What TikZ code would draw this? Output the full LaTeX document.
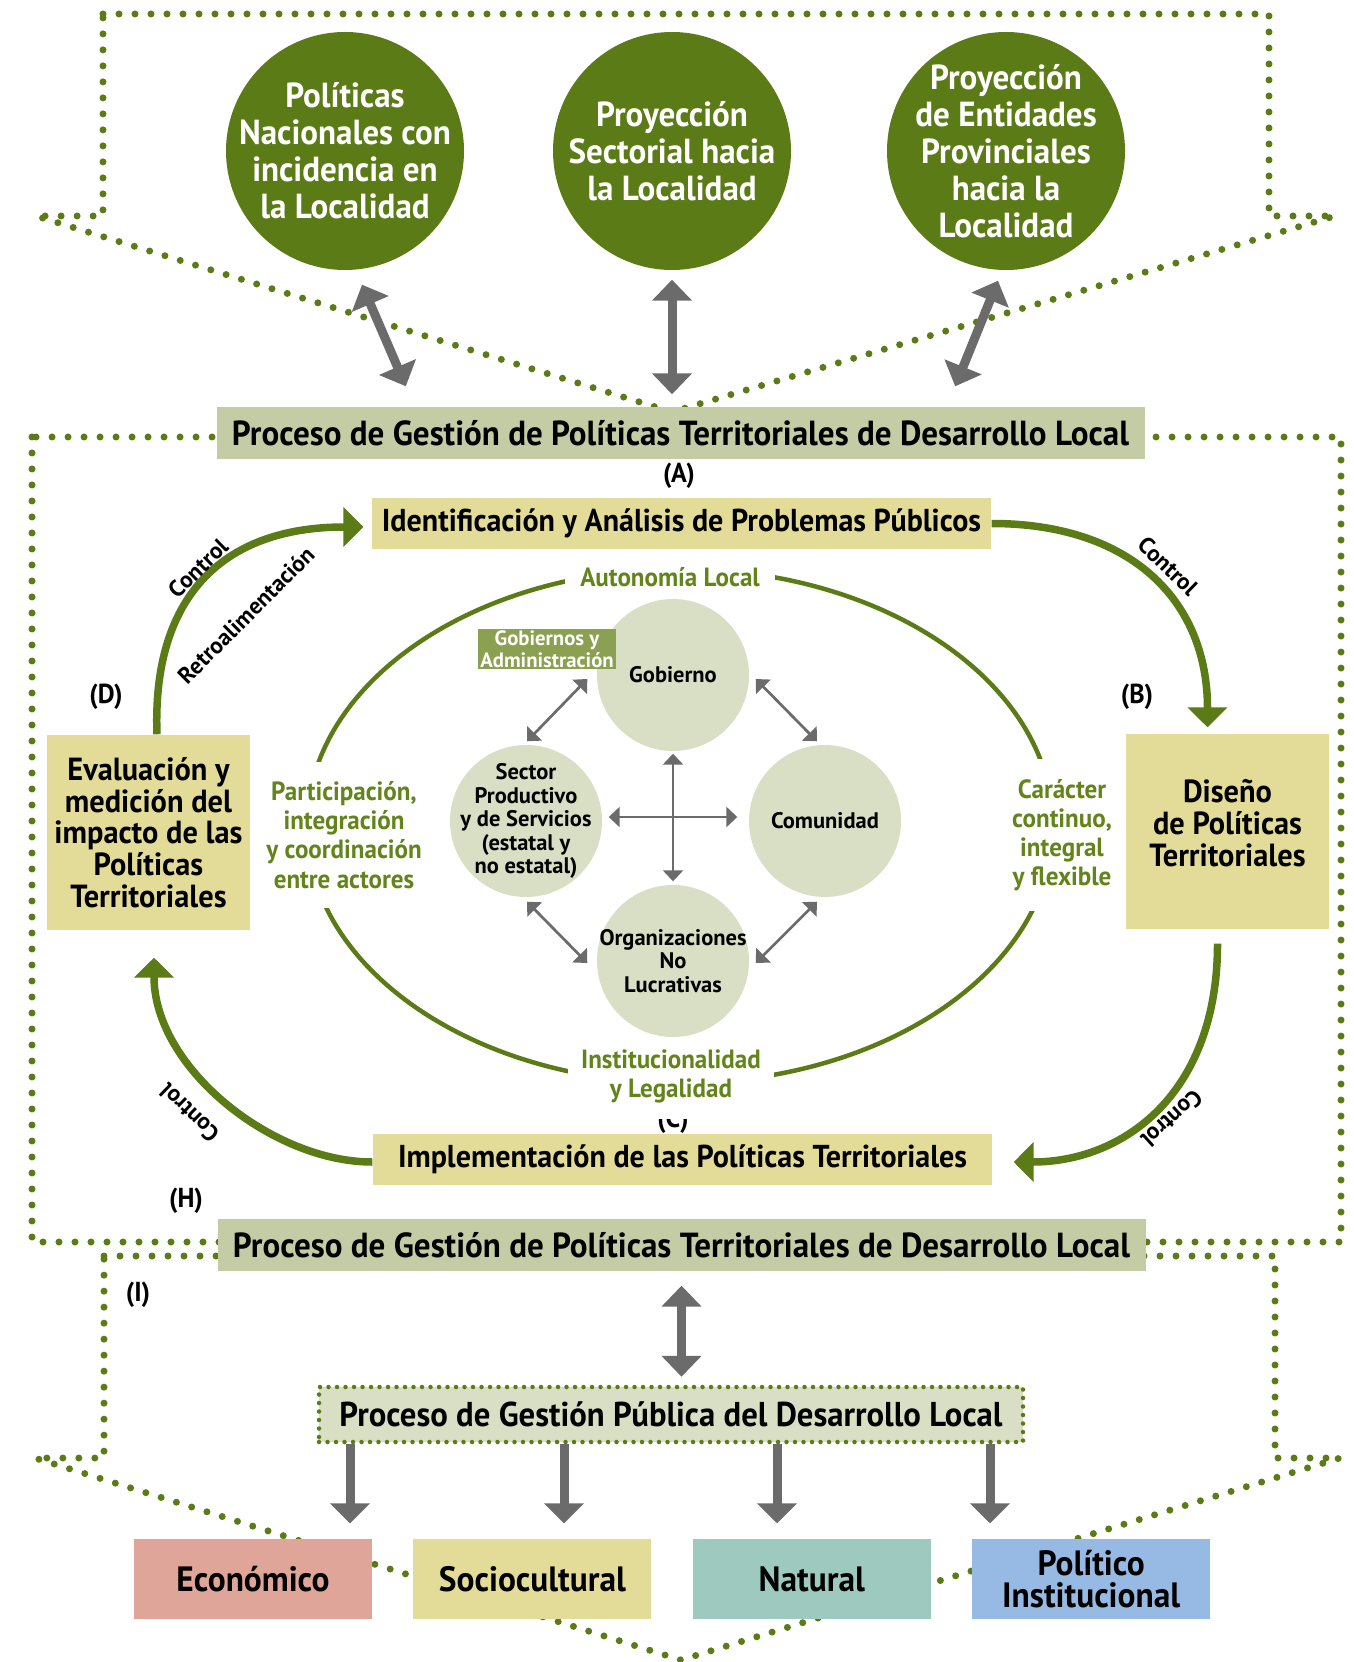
\documentclass[tikz,border=0pt]{standalone}
\usepackage{fontspec}
\setmainfont{PT Sans}
\newfontfamily\narrowfont[FakeStretch=0.95]{PT Sans}
\usetikzlibrary{arrows.meta,positioning}
\definecolor{leafgreen}{RGB}{91,123,22}
\definecolor{labelgreen}{RGB}{98,132,26}
\definecolor{arrowgray}{RGB}{107,107,107}
\definecolor{procfill}{RGB}{195,204,164}
\definecolor{stagefill}{RGB}{227,220,153}
\definecolor{actorfill}{RGB}{216,223,196}
\definecolor{tagfill}{RGB}{139,160,80}
\definecolor{econfill}{RGB}{224,165,153}
\definecolor{natfill}{RGB}{158,201,190}
\definecolor{polfill}{RGB}{150,186,228}
\newcommand{\fsz}[2]{\fontsize{#1}{#2}\selectfont}
\tikzstyle{every node}=[inner sep=0pt,font=\bfseries]
\tikzstyle{dotline}=[leafgreen,line width=0.7mm,line cap=round,dash pattern=on 0pt off 1.6mm]
\tikzstyle{bigboth}=[arrowgray,line width=0.9mm,{Triangle[length=2.1mm,width=3.9mm]}-{Triangle[length=2.1mm,width=3.9mm]}]
\tikzstyle{bigarrow}=[arrowgray,line width=0.9mm,-{Triangle[length=2mm,width=3.9mm]}]
\tikzstyle{smallboth}=[arrowgray,line width=0.27mm,{Triangle[length=1.1mm,width=2mm]}-{Triangle[length=1.1mm,width=2mm]}]
\tikzstyle{cycleline}=[leafgreen,line width=0.75mm,-{Triangle[length=2mm,width=3.9mm]}]
\tikzstyle{ringline}=[leafgreen,line width=0.45mm]
\tikzstyle{greenball}=[circle,fill=leafgreen,text=white,minimum size=23.8mm,inner sep=-1.2mm,align=center,font=\narrowfont\bfseries\fsz{9.9}{10.5}]
\tikzstyle{procbox}=[fill=procfill,minimum width=92.8mm,minimum height=5.2mm,font=\narrowfont\bfseries\fsz{9.9}{10}]
\tikzstyle{stagebox}=[fill=stagefill,minimum width=61.9mm,minimum height=5.1mm,font=\narrowfont\bfseries\fsz{9}{10}]
\tikzstyle{phasebox}=[fill=stagefill,minimum width=20.3mm,minimum height=19.5mm,align=center,font=\narrowfont\bfseries\fsz{9.1}{9}]
\tikzstyle{letter}=[font=\narrowfont\bfseries\fsz{7.8}{8}]
\tikzstyle{ringlabel}=[fill=white,text=labelgreen,align=center,font=\narrowfont\bfseries\fsz{7.5}{8.3}]
\tikzstyle{actor}=[circle,fill=actorfill,minimum size=15.2mm,inner sep=-1.2mm,align=center,font=\bfseries\fsz{6.4}{6.7}]
\tikzstyle{tagbox}=[fill=tagfill,text=white,minimum width=13.8mm,minimum height=4mm,align=center,font=\bfseries\fsz{5.9}{6.3}]
\tikzstyle{ctrl}=[font=\bfseries\fsz{6.6}{7}]
\tikzstyle{pubbox}=[fill=actorfill,draw=leafgreen,line width=0.45mm,line cap=round,dash pattern=on 0pt off 0.85mm,minimum width=70.4mm,minimum height=5.5mm,font=\narrowfont\bfseries\fsz{9.8}{10}]
\tikzstyle{dimbox}=[minimum width=23.8mm,minimum height=8mm,align=center,font=\narrowfont\bfseries\fsz{10}{9.1}]

\begin{document}
\begin{tikzpicture}[x=0.1mm,y=-0.1mm]
    \useasboundingbox (0,0) rectangle (1353,1662);

    % Dotted frames
    \draw[dotline] (103,14) -- (1269,14) -- (1269,216) -- (1335,216) -- (672,412) -- (36,216) -- (103,216) -- cycle;
    \draw[dotline] (32,437) rectangle (1341,1242);
    \draw[dotline] (104,1256) -- (1275,1256) -- (1275,1458) -- (1340,1458) -- (681,1660) -- (35,1458) -- (104,1458) -- cycle;

    % Outer levels
    \node[greenball] (polNac) at (345,151) {Políticas\\Nacionales con\\incidencia en\\la Localidad};
    \node[greenball] (proySec) at (672,151) {Proyección\\Sectorial hacia\\la Localidad};
    \node[greenball] (proyProv) at (1006,151) {Proyección\\de Entidades\\Provinciales\\hacia la\\Localidad};

    \node[procbox] (procTop) at (680.5,433) {Proceso de Gestión de Políticas Territoriales de Desarrollo Local};
    \node[procbox] (procBot) at (681.5,1245) {Proceso de Gestión de Políticas Territoriales de Desarrollo Local};

    \draw[bigboth] ([shift={(17,14)}]polNac.south) -- ([shift={(190,-20)}]procTop.north west);
    \draw[bigboth] ([yshift=-0.9mm]proySec.south) -- ([yshift=1.2mm]proySec.south |- procTop.north);
    \draw[bigboth] ([shift={(-8,10)}]proyProv.south) -- ([shift={(-190,-20)}]procTop.north east);

    % Policy cycle
    \node[stagebox] (ident) at (681.5,523.5) {Identificación y Análisis de Problemas Públicos};
    \node[phasebox,text depth=1.7mm] (diseno) at (1227.5,831.5) {Diseño\\de Políticas\\Territoriales};
    \node[stagebox] (implem) at (682.5,1159.5) {Implementación de las Políticas Territoriales};
    \node[phasebox] (evalua) at (148.5,832.5) {Evaluación y\\medición del\\impacto de las\\Políticas\\Territoriales};

    \node[letter] (labA) at (679,476) {(A)};
    \node[letter] (labB) at (1137,697) {(B)};
    \node[letter] (labC) at (673,1121) {(C)};
    \node[letter] (labD) at (106,697) {(D)};
    \node[letter] (labH) at (186,1201) {(H)};
    \node[letter] (labI) at (138,1295) {(I)};

    \draw[cycleline] ([xshift=0.85mm]evalua.north) .. controls +(-5,-134) and +(-144,0) .. ([xshift=-0.8mm,yshift=-0.35mm]ident.west);
    \draw[cycleline] (ident.east) .. controls +(138,0) and +(0,-128) .. ([shift={(-20,-6)}]diseno.north);
    \draw[cycleline] ([shift={(-10,14)}]diseno.south) .. controls +(0,150) and +(110,0) .. ([shift={(21,2.5)}]implem.east);
    \draw[cycleline] ([yshift=-0.25mm]implem.west) .. controls +(-100,0) and +(0,110) .. ([shift={(5.5,27)}]evalua.south);

    \node[ctrl,rotate=44] (ctrlA) at (198,568) {Control};
    \node[ctrl,rotate=45] (retro) at (246,615) {Retroalimentación};
    \node[ctrl,rotate=-44] (ctrlB) at (1168,566) {Control};
    \node[ctrl,rotate=-138] (ctrlC) at (1172,1119) {Control};
    \node[ctrl,rotate=136] (ctrlD) at (189,1113) {Control};

    % Ring of principles
    \draw[ringline] (680,826) ellipse [x radius=37.3mm,y radius=25.7mm];
    \node[ringlabel,inner xsep=1.5mm,inner ysep=0.6mm] (autonom) at (670,577) {Autonomía Local};
    \node[ringlabel,inner ysep=2mm] (particip) at (344,835) {Participación,\\integración\\y coordinación\\entre actores};
    \node[ringlabel,inner ysep=2mm] (caracter) at (1062,835) {Carácter\\continuo,\\integral\\y flexible};
    \node[ringlabel,inner xsep=1.3mm,anchor=north,text depth=2.1mm] (institu) at (671,1049) {Institucionalidad\\y Legalidad};

    % Actors
    \node[actor] (gobierno) at (673,675) {Gobierno};
    \node[actor] (sector) at (526,821) {Sector\\Productivo\\y de Servicios\\(estatal y\\no estatal)};
    \node[actor] (comunidad) at (825,821) {Comunidad};
    \node[actor] (organiz) at (673,961) {Organizaciones\\No\\Lucrativas};
    \node[tagbox] (tag) at (547,649) {Gobiernos y\\Administración};

    \draw[smallboth] ([shift={(-9,4)}]gobierno.west) -- ([shift={(1,-3)}]sector.north);
    \draw[smallboth] ([shift={(6,4)}]gobierno.east) -- ([shift={(-8,-3)}]comunidad.north);
    \draw[smallboth] ([shift={(1,4)}]sector.south) -- ([shift={(-9,2)}]organiz.west);
    \draw[smallboth] ([shift={(-8,4)}]comunidad.south) -- ([shift={(6,2)}]organiz.east);
    \draw[smallboth] ([yshift=-0.2mm]gobierno.south) -- ([yshift=0.3mm]organiz.north);
    \draw[smallboth] ([shift={(6,-4)}]sector.east) -- ([shift={(-11,-4)}]comunidad.west);

    % Local public management
    \node[pubbox] (gestPub) at (671,1414.5) {Proceso de Gestión Pública del Desarrollo Local};
    \draw[bigboth] ([yshift=-1.4mm]procBot.south) -- ([yshift=0.8mm]procBot.south |- gestPub.north);

    \node[dimbox,fill=econfill] (econ) at (253,1579) {Económico};
    \node[dimbox,fill=stagefill,right=4mm of econ] (socio) {Sociocultural};
    \node[dimbox,fill=natfill,right=4mm of socio] (natur) {Natural};
    \node[dimbox,fill=polfill,right=4mm of natur] (polInst) {Político\\Institucional};

    \foreach \dx in {-321,-107,106,319}
        \draw[bigarrow] ([xshift=\dx*0.1mm]gestPub.south) -- ([xshift=\dx*0.1mm,yshift=1.5mm]gestPub.south |- econ.north);
\end{tikzpicture}
\end{document}
